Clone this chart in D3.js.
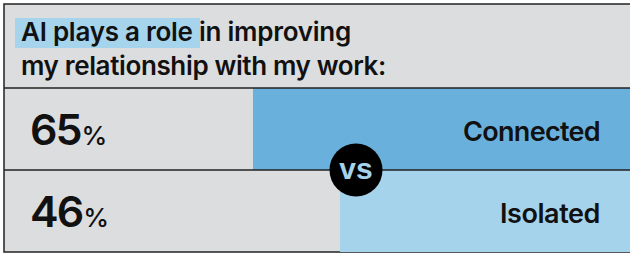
<!DOCTYPE html>
<html><head><meta charset="utf-8">
<script src="https://cdn.jsdelivr.net/npm/d3@7"></script>
<style>
html,body{margin:0;padding:0;background:#fff;}
svg{display:block;}
</style></head>
<body>
<script>
const categories = ["Connected", "Isolated"];
const values = [65, 46];
const titleHighlight = "AI plays a role ";
const titleRest = "in improving";
const titleLine2 = "my relationship with my work:";

const W = 630, H = 255;
const font = "Inter, Roboto, 'Liberation Sans', sans-serif";
const svg = d3.select("body").append("svg").attr("width", W).attr("height", H);

// frame
svg.append("rect").attr("x",4).attr("y",4).attr("width",W+10).attr("height",248)
  .attr("fill","#dcdddf").attr("stroke","#222").attr("stroke-width",1.5);

function fit(sel, w) {
  sel.each(function() {
    const n = this;
    const cur = n.getComputedTextLength();
    const chars = n.textContent.length;
    d3.select(n).attr("letter-spacing", (w - cur) / Math.max(1, chars));
  });
}

// title highlight
svg.append("rect").attr("x",15).attr("y",18).attr("width",185).attr("height",30).attr("fill","#a6d4ec");
const t1 = svg.append("text").attr("x",21).attr("y",40.5).attr("font-family",font)
  .attr("font-size",26).attr("font-weight",600).attr("fill","#111");
t1.append("tspan").text(titleHighlight);
t1.append("tspan").text(titleRest);
fit(t1, 330);
const t2 = svg.append("text").attr("x",21).attr("y",75).attr("font-family",font)
  .attr("font-size",26).attr("font-weight",600).attr("fill","#111").text(titleLine2);
fit(t2, 365);

// bars
const y = d3.scaleBand().domain(categories).range([88, 252]).paddingInner(0);
const x = d3.scaleLinear().domain([0, 100]).range([550.6, 92.7]);
const colors = ["#6ab0dc", "#a6d3ec"];

svg.selectAll("rect.bar").data(categories).join("rect").attr("class","bar")
  .attr("x", (d,i)=>x(values[i])).attr("y", d=>y(d))
  .attr("width", (d,i)=>W+10-x(values[i])).attr("height", y.bandwidth())
  .attr("fill", (d,i)=>colors[i]);

// divider lines
svg.selectAll("line.div").data([88, y(categories[1])]).join("line").attr("class","div")
  .attr("x1",4).attr("x2",W+10).attr("y1",d=>d).attr("y2",d=>d)
  .attr("stroke","#222").attr("stroke-width",1.5);

// values
const vt = svg.selectAll("text.val").data(categories).join("text").attr("class","val")
  .attr("x",30).attr("y", d=>y(d)+y.bandwidth()/2+15.5).attr("font-family",font)
  .attr("font-weight",600).attr("fill","#111");
vt.append("tspan").attr("class","num").attr("font-size",43).attr("letter-spacing",-2).text((d,i)=>values[i]);
vt.append("tspan").attr("font-size",26).attr("font-weight",500).attr("dx",1).text("%");

// labels
const lab = svg.selectAll("text.lab").data(categories).join("text").attr("class","lab")
  .attr("x",600).attr("y", d=>y(d)+y.bandwidth()/2+12).attr("text-anchor","end")
  .attr("font-family",font).attr("font-weight",600).attr("font-size",27)
  .attr("fill","#111").text(d=>d);
fit(lab.filter((d,i)=>i===0), 137);
fit(lab.filter((d,i)=>i===1), 100);

// vs
svg.append("circle").attr("cx",356).attr("cy",y(categories[1])).attr("r",26.5).attr("fill","#000");
svg.append("text").attr("x",356).attr("y",y(categories[1])+8.5).attr("text-anchor","middle")
  .attr("font-family","'Liberation Sans',Arial,sans-serif").attr("font-weight","bold")
  .attr("font-size",30).attr("fill","#a6d3ec").text("vs");
</script>
</body></html>
